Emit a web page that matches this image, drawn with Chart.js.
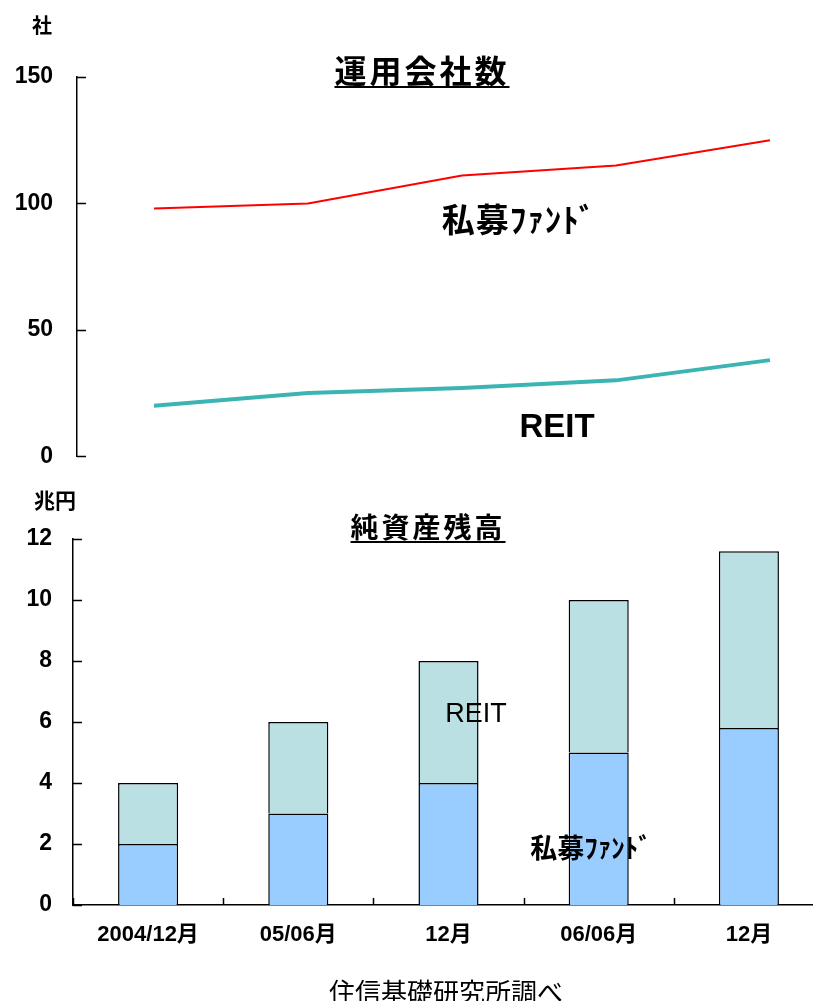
<!DOCTYPE html>
<html lang="ja">
<head>
<meta charset="utf-8">
<script src="https://cdn.jsdelivr.net/npm/chart.js@4.4.1/dist/chart.umd.min.js"></script>
<style>
  html, body { margin: 0; padding: 0; background: #fff; overflow: hidden; }
  body { width: 813px; height: 1001px; position: relative; }
  canvas { position: absolute; left: 0; }
  #firms { top: 0; }
  #assets { top: 470px; }
  .txt { position: absolute; transform: translate(-50%, -50%); white-space: nowrap; line-height: 1; color: #000; }
  .jp { font-family: "Noto Sans CJK JP", sans-serif; }
  .en { font-family: "Liberation Sans", Arial, sans-serif; }
  .title { font-weight: 700; text-decoration: underline; text-decoration-thickness: 2px; text-underline-offset: 3px; }
</style>
</head>
<body>
<canvas id="firms" width="850" height="494"></canvas>
<canvas id="assets" width="830" height="531"></canvas>

<div class="txt jp" style="left:42px;top:25px;font-size:20px;font-weight:700">社</div>
<div class="txt jp title" style="left:422px;top:69px;font-size:32px;letter-spacing:3px">運用会社数</div>
<div class="txt jp" style="left:519px;top:218px;font-size:33px;font-weight:700;letter-spacing:1px">私募ﾌｧﾝﾄﾞ</div>
<div class="txt en" style="left:557px;top:425px;font-size:33px;font-weight:700">REIT</div>

<div class="txt jp" style="left:55px;top:499px;font-size:21px;font-weight:700">兆円</div>
<div class="txt jp title" style="left:428px;top:526px;font-size:28px;letter-spacing:3px">純資産残高</div>
<div class="txt en" style="left:476px;top:713px;font-size:27px">REIT</div>
<div class="txt jp" style="left:591px;top:846px;font-size:27px;font-weight:700">私募ﾌｧﾝﾄﾞ</div>
<div class="txt jp" style="left:446px;top:991px;font-size:26px">住信基礎研究所調べ</div>

<script>
// periods shared by both panels
const periods = ['2004/12月', '05/06月', '12月', '06/06月', '12月'];

// number of management companies (社)
const firmsPrivate = [98, 100, 111, 115, 125];
const firmsReit = [20, 25, 27, 30, 38];
const firmsTicks = [0, 50, 100, 150];

// net assets (兆円)
const assetsPrivate = [2, 3, 4, 5, 5.8];
const assetsReit = [2, 3, 4, 5, 5.8];
const assetsTicks = [0, 2, 4, 6, 8, 10, 12];

const numFont = { family: '"Liberation Sans", "Noto Sans CJK JP", sans-serif', size: 23, weight: '700' };

// short tick marks pointing into the plot area
const innerTicks = {
  id: 'innerTicks',
  afterDraw(chart, args, opts) {
    const { ctx } = chart;
    const y = chart.scales.y;
    ctx.save();
    ctx.strokeStyle = '#000';
    ctx.lineWidth = 1.5;
    ctx.beginPath();
    y.ticks.forEach((t, i) => {
      const py = Math.round(y.getPixelForTick(i)) + 0.5;
      ctx.moveTo(y.right, py);
      ctx.lineTo(y.right + 9, py);
    });
    if (opts.xTicks) {
      const x = chart.scales.x;
      for (let i = 0; i <= x.ticks.length; i++) {
        const px = Math.round(x.getPixelForValue(i - 0.5)) + 0.5;
        ctx.moveTo(px, x.top);
        ctx.lineTo(px, x.top - 7);
      }
    }
    ctx.stroke();
    ctx.restore();
  }
};

Chart.defaults.animation = false;
Chart.defaults.color = '#000';

// ===== 運用会社数 (line) =====
new Chart(document.getElementById('firms'), {
  type: 'line',
  data: {
    labels: periods,
    datasets: [
      { data: firmsPrivate, borderColor: '#ff0000', borderWidth: 2, pointRadius: 0, tension: 0 },
      { data: firmsReit, borderColor: '#3cb4b4', borderWidth: 4, pointRadius: 0, tension: 0 }
    ]
  },
  options: {
    responsive: false,
    layout: { padding: { top: 77, bottom: 0, right: 3, left: 0 } },
    scales: {
      x: { display: false, offset: true },
      y: {
        min: 0, max: 150,
        afterBuildTicks: s => { s.ticks = firmsTicks.map(v => ({ value: v })); },
        afterFit: s => { s.width = 77; },
        grid: { display: false, drawTicks: false },
        border: { display: true, color: '#000', width: 1.5 },
        ticks: { padding: 24, font: numFont, color: '#000' }
      }
    },
    plugins: { legend: { display: false }, tooltip: { enabled: false }, innerTicks: {} }
  },
  plugins: [innerTicks]
});

// ===== 純資産残高 (stacked bars) =====
new Chart(document.getElementById('assets'), {
  type: 'bar',
  data: {
    labels: periods,
    datasets: [
      { data: assetsPrivate, backgroundColor: '#99ccff', borderColor: '#000', borderWidth: 1.5 },
      { data: assetsReit, backgroundColor: '#bbe0e3', borderColor: '#000', borderWidth: 1.5 }
    ]
  },
  options: {
    responsive: false,
    layout: { padding: { top: 69, bottom: 0, right: 6, left: 0 } },
    datasets: { bar: { categoryPercentage: 1, barPercentage: 0.4 } },
    scales: {
      x: {
        stacked: true,
        afterFit: s => { s.height = 96; },
        grid: { display: false, drawTicks: false },
        border: { display: true, color: '#000', width: 1.5 },
        ticks: { padding: 17, color: '#000', maxRotation: 0, autoSkip: false,
                 font: { family: numFont.family, size: 22, weight: '700' } }
      },
      y: {
        stacked: true,
        min: 0, max: 12,
        afterBuildTicks: s => { s.ticks = assetsTicks.map(v => ({ value: v })); },
        afterFit: s => { s.width = 73; },
        grid: { display: false, drawTicks: false },
        border: { display: true, color: '#000', width: 1.5 },
        ticks: { padding: 21, font: numFont, color: '#000' }
      }
    },
    plugins: { legend: { display: false }, tooltip: { enabled: false }, innerTicks: { xTicks: true } }
  },
  plugins: [innerTicks]
});
</script>
</body>
</html>
